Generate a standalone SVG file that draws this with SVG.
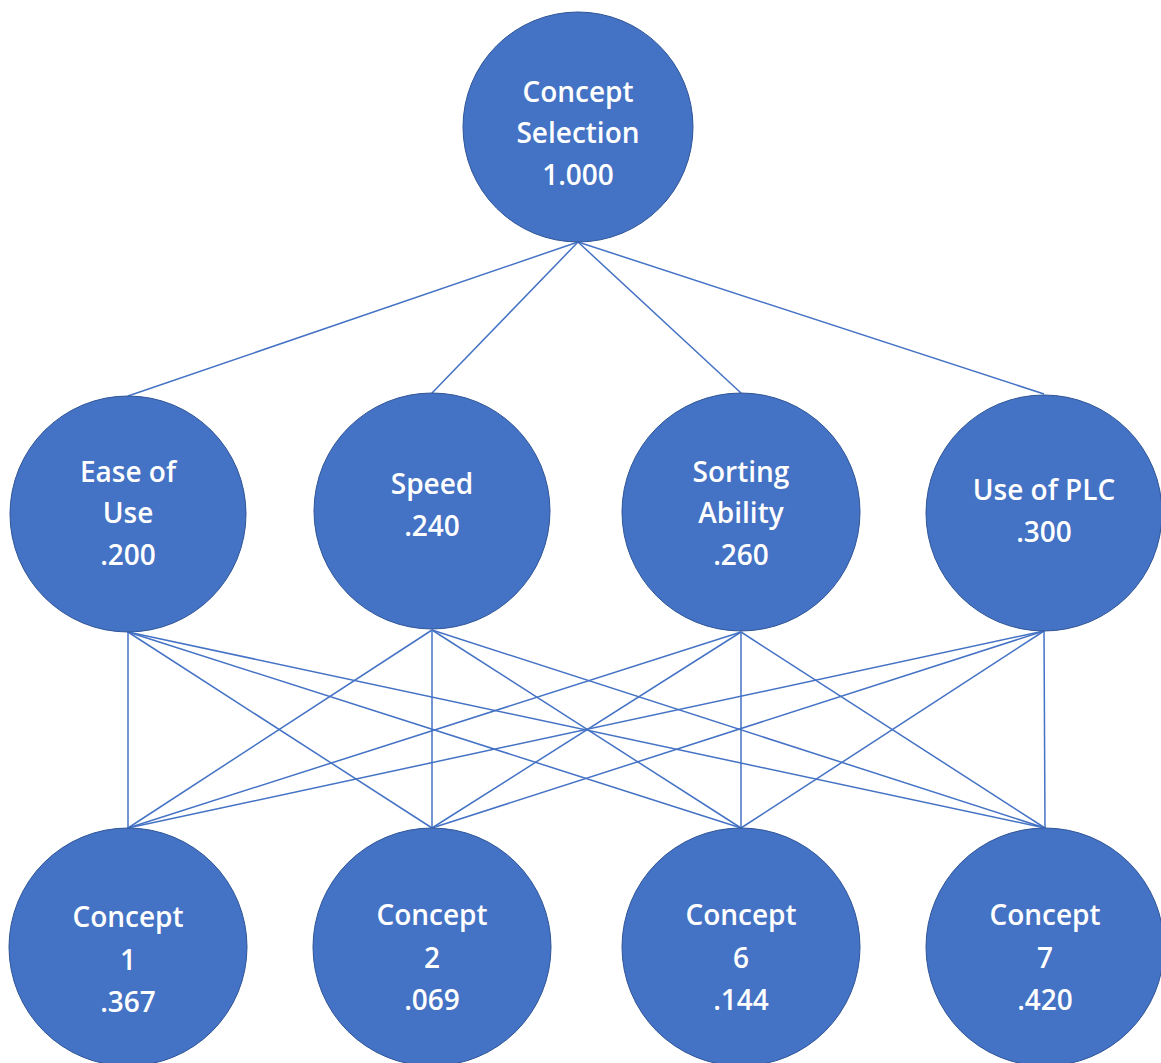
<svg xmlns="http://www.w3.org/2000/svg" width="1161" height="1063" viewBox="0 0 1161 1063">
<style>
.node{fill:#4472C4;stroke:#2F5597;stroke-width:1}
.lbl{font-family:"Open Sans","Liberation Sans",sans-serif;font-size:28px;font-weight:600;fill:#ffffff;text-anchor:middle}
.edge{stroke:#4472C4;stroke-width:1.5;fill:none}
</style>
<rect width="1161" height="1063" fill="#ffffff"/>
<g id="connectors">
<line class="edge" x1="578" y1="242" x2="128" y2="396"/>
<line class="edge" x1="578" y1="242" x2="432" y2="393"/>
<line class="edge" x1="578" y1="242" x2="741" y2="393"/>
<line class="edge" x1="578" y1="242" x2="1044" y2="394"/>
<line class="edge" x1="128" y1="632" x2="128" y2="828"/>
<line class="edge" x1="128" y1="632" x2="432" y2="828"/>
<line class="edge" x1="128" y1="632" x2="741" y2="828"/>
<line class="edge" x1="128" y1="632" x2="1045" y2="828"/>
<line class="edge" x1="432" y1="630" x2="128" y2="828"/>
<line class="edge" x1="432" y1="630" x2="432" y2="828"/>
<line class="edge" x1="432" y1="630" x2="741" y2="828"/>
<line class="edge" x1="432" y1="630" x2="1045" y2="828"/>
<line class="edge" x1="741" y1="632" x2="128" y2="828"/>
<line class="edge" x1="741" y1="632" x2="432" y2="828"/>
<line class="edge" x1="741" y1="632" x2="741" y2="828"/>
<line class="edge" x1="741" y1="632" x2="1045" y2="828"/>
<line class="edge" x1="1044" y1="631" x2="128" y2="828"/>
<line class="edge" x1="1044" y1="631" x2="432" y2="828"/>
<line class="edge" x1="1044" y1="631" x2="741" y2="828"/>
<line class="edge" x1="1044" y1="631" x2="1045" y2="828"/>
</g>
<g id="concept-selection">
<circle class="node" cx="578" cy="127" r="115"/>
<text class="lbl" x="578" y="102">Concept</text>
<text class="lbl" x="578" y="143">Selection</text>
<text class="lbl" x="578" y="185">1.000</text>
</g>
<g id="ease-of-use">
<circle class="node" cx="128" cy="514" r="118"/>
<text class="lbl" x="128" y="482">Ease of</text>
<text class="lbl" x="128" y="523">Use</text>
<text class="lbl" x="128" y="565">.200</text>
</g>
<g id="speed">
<circle class="node" cx="432" cy="511" r="118"/>
<text class="lbl" x="432" y="494">Speed</text>
<text class="lbl" x="432" y="536">.240</text>
</g>
<g id="sorting-ability">
<circle class="node" cx="741" cy="512" r="119"/>
<text class="lbl" x="741" y="482">Sorting</text>
<text class="lbl" x="741" y="523">Ability</text>
<text class="lbl" x="741" y="565">.260</text>
</g>
<g id="use-of-plc">
<circle class="node" cx="1044" cy="513" r="118"/>
<text class="lbl" x="1044" y="500">Use of PLC</text>
<text class="lbl" x="1044" y="542">.300</text>
</g>
<g id="concept-1">
<circle class="node" cx="128" cy="947" r="119"/>
<text class="lbl" x="128" y="927">Concept</text>
<text class="lbl" x="128" y="970">1</text>
<text class="lbl" x="128" y="1012">.367</text>
</g>
<g id="concept-2">
<circle class="node" cx="432" cy="947" r="119"/>
<text class="lbl" x="432" y="925">Concept</text>
<text class="lbl" x="432" y="968">2</text>
<text class="lbl" x="432" y="1010">.069</text>
</g>
<g id="concept-6">
<circle class="node" cx="741" cy="947" r="119"/>
<text class="lbl" x="741" y="925">Concept</text>
<text class="lbl" x="741" y="968">6</text>
<text class="lbl" x="741" y="1010">.144</text>
</g>
<g id="concept-7">
<circle class="node" cx="1045" cy="947" r="119"/>
<text class="lbl" x="1045" y="925">Concept</text>
<text class="lbl" x="1045" y="968">7</text>
<text class="lbl" x="1045" y="1010">.420</text>
</g>
</svg>
